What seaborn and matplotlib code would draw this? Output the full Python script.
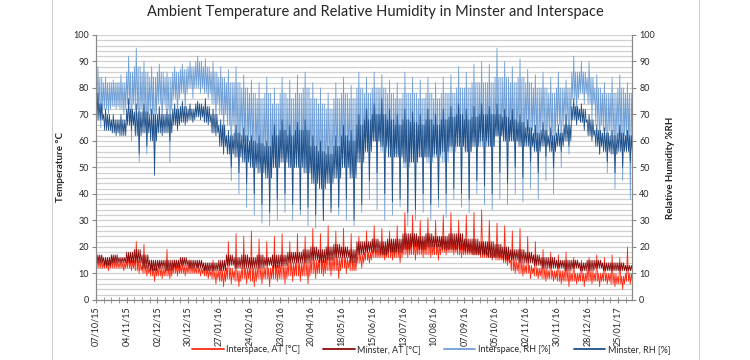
import numpy as np
import pandas as pd
import seaborn as sns
import matplotlib.pyplot as plt
from matplotlib.lines import Line2D
from matplotlib.ticker import MultipleLocator

# weekly readings, first week starting 07/10/15
# *_hi / *_lo : the extreme spikes of the week, *_core_hi / *_core_lo : the usual band
start = pd.Timestamp('2015-10-07')

interspace_rh_hi = [88, 84, 83, 85, 92, 95, 90, 88, 89, 86, 88, 89, 90, 92, 91, 90, 88, 87, 88, 85,
                    83, 82, 84, 80, 84, 83, 85, 86, 82, 80, 78, 82, 84, 81, 86, 84, 86, 85, 83, 82,
                    86, 84, 83, 84, 82, 84, 85, 88, 86, 89, 90, 89, 95, 90, 88, 91, 87, 85, 86, 84,
                    86, 83, 92, 90, 90, 85, 82, 84, 85, 82]
interspace_rh_lo = [65, 70, 72, 70, 60, 52, 55, 50, 65, 52, 68, 72, 76, 78, 76, 68, 60, 45, 40, 35,
                    32, 29, 28, 30, 33, 30, 32, 28, 27, 30, 35, 32, 30, 28, 33, 38, 34, 30, 32, 35,
                    28, 30, 33, 30, 35, 31, 38, 35, 33, 40, 36, 34, 38, 36, 40, 37, 42, 38, 45, 40,
                    50, 55, 70, 74, 68, 55, 48, 42, 45, 38]
interspace_rh_core_hi = [84, 82, 82, 82, 86, 88, 86, 84, 86, 84, 86, 87, 88, 90, 88, 86, 84, 82, 82, 80,
                         78, 76, 78, 74, 78, 76, 78, 80, 76, 74, 72, 76, 78, 76, 80, 78, 80, 80, 78, 76,
                         78, 78, 76, 78, 76, 78, 78, 80, 80, 82, 82, 82, 84, 84, 82, 84, 82, 80, 80, 78,
                         80, 80, 86, 86, 84, 80, 78, 78, 80, 78]
interspace_rh_core_lo = [72, 72, 73, 72, 74, 72, 70, 70, 74, 72, 76, 78, 80, 80, 78, 74, 70, 66, 62, 60,
                         56, 52, 50, 50, 54, 50, 52, 50, 46, 46, 50, 52, 54, 48, 56, 58, 60, 56, 54, 55,
                         50, 52, 54, 52, 54, 52, 56, 58, 56, 60, 58, 58, 62, 60, 60, 60, 64, 62, 64, 62,
                         66, 68, 76, 78, 74, 66, 64, 62, 62, 60]

minster_rh_hi = [78, 72, 70, 70, 76, 74, 74, 72, 73, 72, 74, 75, 74, 75, 76, 72, 68, 64, 66, 65,
                 62, 62, 60, 66, 68, 66, 67, 68, 62, 60, 58, 62, 66, 64, 70, 72, 74, 76, 72, 70,
                 72, 71, 70, 72, 70, 72, 73, 74, 72, 73, 74, 73, 74, 72, 72, 70, 68, 66, 67, 65,
                 66, 70, 76, 74, 70, 66, 65, 64, 66, 64]
minster_rh_lo = [68, 64, 62, 62, 64, 55, 58, 47, 62, 60, 64, 66, 67, 68, 66, 62, 55, 50, 48, 44,
                 40, 36, 33, 38, 40, 36, 34, 35, 32, 30, 33, 35, 38, 30, 36, 45, 48, 40, 37, 38,
                 33, 34, 40, 36, 38, 40, 42, 40, 38, 45, 43, 40, 48, 44, 50, 46, 52, 48, 54, 50,
                 56, 58, 66, 64, 60, 55, 52, 48, 50, 52]
minster_rh_core_hi = [74, 70, 68, 68, 72, 71, 71, 70, 70, 70, 72, 73, 72, 74, 73, 70, 66, 62, 63, 62,
                      60, 59, 58, 62, 64, 62, 64, 64, 58, 56, 55, 58, 62, 60, 66, 68, 70, 70, 68, 66,
                      68, 67, 66, 68, 66, 68, 69, 70, 68, 69, 70, 70, 70, 69, 68, 67, 65, 63, 64, 62,
                      63, 66, 73, 72, 68, 64, 63, 62, 63, 62]
minster_rh_core_lo = [68, 64, 63, 62, 66, 62, 63, 60, 63, 63, 66, 67, 68, 69, 67, 63, 58, 55, 54, 52,
                      50, 48, 46, 50, 52, 50, 50, 48, 44, 42, 44, 46, 50, 46, 52, 56, 60, 58, 54, 54,
                      52, 52, 54, 54, 55, 56, 58, 58, 56, 58, 60, 58, 62, 60, 60, 58, 58, 56, 58, 56,
                      58, 60, 68, 67, 62, 58, 56, 55, 56, 56]

interspace_at_hi = [16, 15, 16, 15, 17, 22, 21, 15, 14, 19, 15, 14, 15, 14, 13, 15, 13, 22, 25, 24,
                    26, 23, 22, 24, 25, 22, 25, 24, 27, 25, 28, 26, 27, 25, 24, 26, 28, 27, 26, 28,
                    33, 32, 30, 31, 30, 32, 33, 30, 32, 33, 34, 30, 29, 28, 26, 27, 24, 22, 19, 18,
                    17, 18, 16, 15, 16, 17, 16, 17, 16, 20]
interspace_at_lo = [12, 11, 12, 11, 11, 10, 9, 7, 8, 8, 9, 9, 10, 9, 8, 6, 5, 6, 5, 6,
                    5, 6, 5, 7, 6, 7, 7, 6, 8, 9, 9, 8, 10, 11, 12, 14, 16, 15, 15, 14,
                    16, 15, 16, 16, 15, 17, 17, 16, 17, 17, 16, 15, 15, 13, 10, 9, 8, 8, 7, 7,
                    6, 5, 6, 5, 6, 5, 6, 5, 4, 6]
interspace_at_core_hi = [15, 14, 15, 14, 15, 15, 13, 12, 12, 12, 13, 13, 13, 12, 12, 11, 11, 12, 11, 12,
                         12, 12, 12, 13, 13, 14, 14, 14, 15, 15, 16, 16, 16, 15, 17, 18, 19, 19, 20, 20,
                         22, 22, 22, 22, 21, 22, 22, 21, 21, 20, 19, 18, 18, 17, 15, 14, 13, 12, 12, 11,
                         11, 11, 10, 10, 11, 10, 10, 10, 9, 10]
interspace_at_core_lo = [12, 12, 12, 12, 12, 11, 10, 9, 9, 9, 10, 10, 10, 10, 9, 8, 7, 8, 7, 8,
                         7, 8, 8, 8, 8, 9, 9, 9, 10, 10, 11, 11, 12, 11, 14, 15, 16, 16, 16, 16,
                         17, 17, 17, 17, 17, 18, 18, 17, 17, 17, 16, 16, 15, 14, 11, 10, 10, 9, 8, 8,
                         7, 7, 7, 7, 7, 7, 7, 6, 6, 7]

minster_at_hi = [17, 16, 17, 16, 18, 19, 17, 15, 15, 15, 15, 16, 15, 15, 14, 14, 15, 17, 16, 17,
                 16, 17, 16, 17, 17, 18, 18, 19, 20, 19, 20, 21, 20, 19, 22, 22, 23, 22, 23, 23,
                 25, 25, 24, 25, 24, 24, 25, 25, 23, 23, 22, 22, 21, 20, 19, 19, 18, 17, 16, 16,
                 15, 15, 15, 14, 15, 15, 14, 14, 14, 13]
minster_at_lo = [14, 13, 14, 14, 14, 14, 12, 11, 12, 11, 12, 13, 12, 12, 11, 11, 11, 13, 12, 12,
                 12, 12, 13, 12, 13, 14, 14, 14, 15, 14, 15, 16, 16, 14, 17, 18, 18, 17, 18, 18,
                 19, 20, 19, 20, 20, 19, 19, 19, 18, 17, 17, 16, 16, 15, 15, 14, 14, 13, 12, 12,
                 12, 11, 12, 11, 11, 12, 11, 11, 11, 11]

names = ['Interspace, AT [°C]', 'Minster, AT [°C]', 'Interspace, RH [%]', 'Minster, RH [%]']
colors = ['#ff2a12', '#8a0a0a', '#6f9fd6', '#1f5089']


def weekly_trace(hi, lo, core_hi, core_lo):
    # 8 readings a week: one spike up, one spike down, the rest inside the usual band
    return np.column_stack([core_hi, core_lo, hi, core_lo, core_hi, lo, core_hi, core_lo]).ravel()


n_weeks = len(minster_at_hi)
days = np.arange(n_weeks * 8) * 7 / 8
series = [
    (interspace_at_hi, interspace_at_lo, interspace_at_core_hi, interspace_at_core_lo),
    (minster_at_hi, minster_at_lo, minster_at_hi, minster_at_lo),
    (interspace_rh_hi, interspace_rh_lo, interspace_rh_core_hi, interspace_rh_core_lo),
    (minster_rh_hi, minster_rh_lo, minster_rh_core_hi, minster_rh_core_lo),
]
frames = [pd.DataFrame({'day': days, 'value': weekly_trace(*s), 'series': n})
          for n, s in zip(names, series)]
df = pd.concat(frames, ignore_index=True)

sns.set_style('ticks')
plt.rcParams['font.family'] = ['Lato', 'DejaVu Sans']

fig = plt.figure(figsize=(7.5, 3.6), dpi=100)
ax = fig.add_axes([0.128, 0.167, 0.715, 0.736])
ax2 = ax.twinx()

pal = dict(zip(names, colors))
sns.lineplot(data=df[df.series.isin(names[:2])], x='day', y='value', hue='series', palette=pal,
             estimator=None, sort=False, linewidth=0.6, legend=False, ax=ax)
sns.lineplot(data=df[df.series.isin(names[2:])], x='day', y='value', hue='series', palette=pal,
             estimator=None, sort=False, linewidth=0.6, legend=False, ax=ax2)

for a in (ax, ax2):
    a.set_ylim(0, 100)
    a.set_xlim(0, days[-1])
    a.yaxis.set_major_locator(MultipleLocator(10))
    a.tick_params(axis='y', labelsize=6.5, length=3, color='#888888', pad=2)
    a.spines['top'].set_visible(False)
    for s in ['left', 'right', 'bottom']:
        a.spines[s].set_color('#888888')
        a.spines[s].set_linewidth(0.8)

ax.yaxis.set_minor_locator(MultipleLocator(2))
ax.tick_params(axis='y', which='minor', length=0)
ax.grid(which='both', axis='y', color='#d0d0d0', linewidth=0.9)
ax.set_axisbelow(True)

tick_days = np.arange(0, 477, 28)
tick_labels = pd.date_range(start, periods=len(tick_days), freq='28D').strftime('%d/%m/%y')
ax.set_xticks(tick_days)
ax.set_xticklabels(tick_labels, rotation=90, fontsize=6.5)
ax.xaxis.set_minor_locator(MultipleLocator(7))
ax.tick_params(axis='x', which='both', direction='inout', length=5, color='#888888', pad=2)

ax.set_xlabel('')
ax.set_ylabel('Temperature °C', fontsize=7, fontweight='bold', labelpad=6)
ax2.set_ylabel('Relative Humidity %RH', fontsize=7, fontweight='bold', labelpad=8)

fig.suptitle('Ambient Temperature and Relative Humidity in Minster and Interspace',
             x=0.5, y=0.985, fontsize=10.5)

handles = [Line2D([], [], color=c, lw=1.3) for c in colors]
fig.legend(handles, names, loc='center', bbox_to_anchor=(0.575, 0.028), ncol=4, frameon=False,
           fontsize=6.5, handlelength=3.5, columnspacing=2.5, handletextpad=0.3)

for xpos in (0.069, 0.932):
    fig.add_artist(Line2D([xpos, xpos], [0, 1], color='#d0d0d0', lw=0.8, transform=fig.transFigure))

fig.savefig('out.png', dpi=100)
